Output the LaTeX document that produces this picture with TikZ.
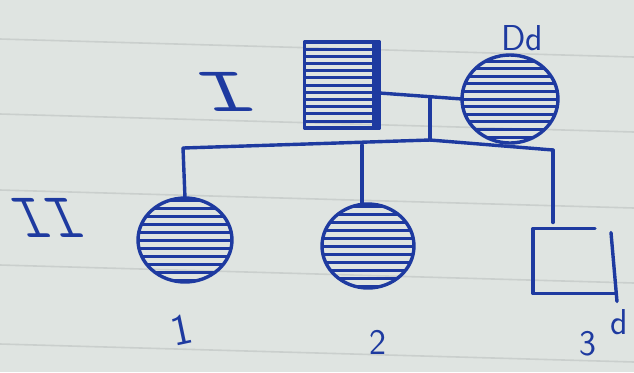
\documentclass[tikz,border=0pt]{standalone}
\usetikzlibrary{shapes.geometric,calc}
\definecolor{ink}{RGB}{30,58,160}
\definecolor{paper}{RGB}{223,228,225}
\definecolor{ruling}{RGB}{202,207,205}
\tikzset{
  pen/.style={draw=ink,line width=1.7pt,line cap=round,line join=round},
  hatched/.style={path picture={
      \foreach \k in {-7,...,7}{
        \draw[ink,line width=1.5pt,shift={(path picture bounding box.center)}]
          (-40pt,{\k*#1}) -- (40pt,{\k*#1});}}},
  hatched/.default=4pt,
  female/.style={ellipse,pen,inner sep=0pt,outer sep=0pt},
  male/.style={rectangle,pen,inner sep=0pt,outer sep=0pt},
  hand/.style={text=ink,font=\sffamily\fontsize{18}{18}\selectfont,inner sep=0pt},
  gen/.style={text=ink,font=\ttfamily\fontsize{32}{32}\selectfont,inner sep=0pt,transform shape},
}
\begin{document}
\begin{tikzpicture}[x=0.5pt,y=-0.5pt]
  % paper
  \fill[paper] (0,0) rectangle (634,372);
  \useasboundingbox (0,0) rectangle (634,372);
  \foreach \y in {39,114,190,265,344}
    \draw[ruling,line width=0.8pt] (0,\y) -- (634,\y+18);

  % generation I
  \node[male,hatched=3.6pt,minimum width=37.5pt,minimum height=43pt] (f) at (342,85) {};
  \draw[ink,line width=3.6pt] ([xshift=-1.8pt]f.north east) -- ([xshift=-1.8pt]f.south east);
  \node[female,hatched=3.8pt,minimum width=48pt,minimum height=44pt] (m) at (510,99) {};
  \node[hand] (gm) at (522,38) {Dd};

  % generation II
  \node[female,hatched=4pt,minimum width=47pt,minimum height=42pt] (c1) at (185,240) {};
  \node[female,hatched=4pt,minimum width=46pt,minimum height=42pt] (c2) at (368,246) {};
  \node[inner sep=0pt,outer sep=0pt,minimum width=41pt,minimum height=32.5pt] (c3) at (574,261) {};
  \draw[pen] ([xshift=-10pt]c3.north east) -- (c3.north west) -- (c3.south west) -- (c3.south east);
  \draw[pen] ([xshift=-2pt,yshift=-2pt]c3.north east) -- ([xshift=1pt,yshift=-4pt]c3.south east);

  % marriage, descent and sibship lines
  \coordinate (mid) at (430,97);
  \coordinate (sib) at (430,140);
  \coordinate (sl) at (183,148);
  \coordinate (s2) at (362,145);
  \coordinate (sr) at (553,150);
  \draw[pen] ([yshift=-4pt]f.east) -- (m.west);
  \draw[pen] (mid) -- (sib);
  \draw[pen] (sl) -- (sib) -- (sr);
  \draw[pen] (sl) -- (c1.north);
  \draw[pen] (s2) -- (s2 |- c2.north);
  \draw[pen] (sr) -- ($(sr |- c3.north)+(0,-6)$);

  % generation numerals and individual numbers
  \node[gen,xscale=1.7,xslant=-0.25] (g1) at (226,92) {I};
  \node[gen,xscale=1.0,xslant=-0.45] (g2) at (48,218) {II};
  \node[hand,font=\sffamily\fontsize{22}{22}\selectfont,rotate=12] (n1) at (182,330) {1};
  \node[hand] (n2) at (378,342) {2};
  \node[hand] (n3) at (588,344) {3};
  \node[hand] (n3d) at (619,322) {d};
\end{tikzpicture}
\end{document}
